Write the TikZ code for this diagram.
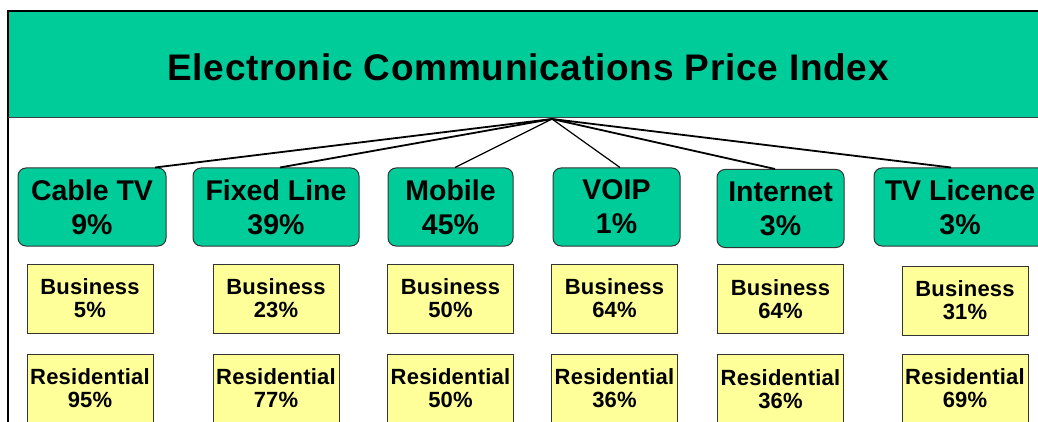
\documentclass[tikz,border=0pt]{standalone}
\usepackage{fontspec}
\setmainfont{Liberation Sans}
\newfontfamily\headfont{Liberation Sans}[LetterSpace=2]
\newfontfamily\sectorfont{Liberation Sans}
\newfontfamily\splitfont{Liberation Sans}[LetterSpace=1]
\usepackage{tikz}
\usetikzlibrary{positioning}

\definecolor{indexgreen}{RGB}{0,204,153}
\definecolor{splityellow}{RGB}{255,255,153}

\tikzset{
  sector/.style={draw=black!80, line width=1pt, fill=indexgreen, rounded corners=8pt,
    minimum height=78pt, inner sep=0pt, align=center,
    font=\sectorfont\bfseries\fontsize{28.5}{34}\selectfont},
  split/.style={draw=black!80, line width=1pt, fill=splityellow,
    minimum width=126pt, minimum height=69pt, inner sep=0pt, align=center,
    font=\splitfont\bfseries\fontsize{22}{23}\selectfont},
}

\begin{document}
\begin{tikzpicture}[x=1pt, y=-1pt]
    \useasboundingbox (0,0) rectangle (1038,422);
    \clip (0,0) rectangle (1038,422);

    % title band
    \node[fill=indexgreen, minimum width=1040pt, minimum height=107pt, inner sep=0pt] (band) at (528,63.5) {};
    \node[font=\headfont\bfseries\fontsize{37}{40}\selectfont] (title) at (528,67) {Electronic Communications Price Index};
    \draw[line width=2.5pt] (8,422) -- (8,11) -- (1040,11);
    \draw[line width=1.2pt, black!75] (band.south west) -- (band.south east);

    \coordinate (hub) at (552,119);

    % sectors
    \node[sector, minimum width=148pt] (cable) at (92,207) {Cable TV\\9\%};
    \node[sector, minimum width=166pt] (fixed) at (276,207) {Fixed Line\\39\%};
    \node[sector, minimum width=125pt] (mobile) at (450.5,207) {Mobile\\45\%};
    \node[sector, minimum width=127pt] (voip) at (616.5,207) {VOIP\\1\%};
    \node[sector, minimum width=127pt] (internet) at (780.5,208.5) {Internet\\3\%};
    \node[sector, minimum width=172pt] (licence) at (960,207) {TV Licence\\3\%};

    % business share
    \node[split, below=17pt of cable, xshift=-2pt] (cableB) {Business\\5\%};
    \node[split, below=17pt of fixed] (fixedB) {Business\\23\%};
    \node[split, below=17pt of mobile] (mobileB) {Business\\50\%};
    \node[split, below=17pt of voip, xshift=-2pt] (voipB) {Business\\64\%};
    \node[split, below=16pt of internet] (internetB) {Business\\64\%};
    \node[split, below=19pt of licence, xshift=5pt] (licenceB) {Business\\31\%};

    % residential share
    \node[split, below=20pt of cableB] (cableR) {Residential\\95\%};
    \node[split, below=20pt of fixedB] (fixedR) {Residential\\77\%};
    \node[split, below=20pt of mobileB] (mobileR) {Residential\\50\%};
    \node[split, below=20pt of voipB] (voipR) {Residential\\36\%};
    \node[split, below=20pt of internetB] (internetR) {Residential\\36\%};
    \node[split, below=18pt of licenceB] (licenceR) {Residential\\69\%};

    \path[line width=1.8pt]
    (hub) edge ([xshift=63pt]cable.north)
    (hub) edge ([xshift=4pt]fixed.north)
    (hub) edge [line width=1.2pt] ([xshift=4.5pt]mobile.north)
    (hub) edge [line width=1.2pt] ([xshift=3.5pt]voip.north)
    (hub) edge ([xshift=-5.5pt]internet.north)
    (hub) edge ([xshift=-9pt]licence.north);

\end{tikzpicture}
\end{document}
